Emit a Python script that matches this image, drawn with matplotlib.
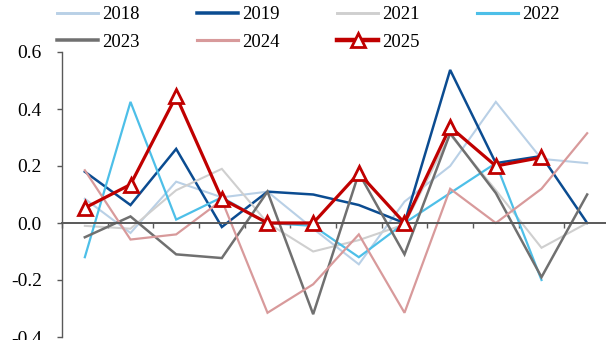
import numpy as np
import matplotlib
matplotlib.use("Agg")
import matplotlib.pyplot as plt

nan = np.nan
months = ["1", "2", "3", "4", "5", "6", "7", "8", "9", "10", "11", "12"]
s2018 = [0.085, -0.035, 0.145, 0.09, 0.11, -0.02, -0.145, 0.075, 0.20, 0.425, 0.225, 0.21]
s2019 = [0.18, 0.063, 0.26, -0.014, 0.11, 0.10, 0.063, 0.0, 0.537, 0.21, 0.235, 0.0]
s2021 = [-0.01, -0.02, 0.115, 0.19, 0.0, -0.10, -0.06, -0.005, 0.31, 0.115, -0.087, 0.0]
s2022 = [-0.12, 0.425, 0.012, 0.09, 0.0, -0.01, -0.12, 0.0, 0.105, 0.21, -0.20, nan]
s2023 = [-0.05, 0.023, -0.11, -0.123, 0.11, -0.32, 0.175, -0.11, 0.315, 0.105, -0.19, 0.10]
s2024 = [0.185, -0.058, -0.04, 0.08, -0.315, -0.215, -0.04, -0.315, 0.12, 0.0, 0.12, 0.315]
s2025 = [0.053, 0.135, 0.445, 0.085, 0.0, 0.0, 0.175, 0.0, 0.337, 0.20, 0.23, nan]
yticks = [-0.4, -0.2, 0.0, 0.2, 0.4, 0.6]
ytick_labels = ["-0.4", "-0.2", "0.0", "0.2", "0.4", "0.6"]

plt.rcParams['font.family'] = ['Liberation Serif', 'DejaVu Serif']

W, H = 606, 340
fig = plt.figure(figsize=(W / 100, H / 100), dpi=100)
ax = fig.add_axes([62 / W, 3 / H, 548 / W, 285 / H])

x = np.arange(len(months))
series = [
    ("2018", s2018, "#B9D0E6", 1.5),
    ("2019", s2019, "#0B4C91", 1.8),
    ("2021", s2021, "#CFCFCF", 1.5),
    ("2022", s2022, "#4DBFE8", 1.6),
    ("2023", s2023, "#707070", 1.8),
    ("2024", s2024, "#D89A9B", 1.6),
]
handles = {}
for name, vals, col, lw in series:
    handles[name], = ax.plot(x, vals, color=col, lw=lw, label=name, solid_joinstyle='miter')
handles["2025"], = ax.plot(x, s2025, color="#C00000", lw=2.3, marker='^', markersize=10,
                           markerfacecolor='white', markeredgecolor="#C00000",
                           markeredgewidth=2.0, label="2025", zorder=5)

ax.set_xlim(-0.5, len(months) - 0.5)
ax.set_ylim(-0.4, 0.6)
ax.set_yticks(yticks)
ax.set_yticklabels(ytick_labels)
ax.set_xticks(np.arange(-0.5, len(months), 1.0))
ax.set_xticklabels([])
for s in ['top', 'right']:
    ax.spines[s].set_visible(False)
ax.spines['bottom'].set_position(('data', 0))
ax.spines['bottom'].set_color('#595959')
ax.spines['bottom'].set_linewidth(1.4)
ax.spines['left'].set_color('#595959')
ax.spines['left'].set_linewidth(1.0)
ax.tick_params(axis='y', direction='out', length=3.5, width=1.0, color='#595959',
               labelsize=14, pad=11)
ax.tick_params(axis='x', direction='out', length=3.5, width=1.0, color='#595959')

order = ["2018", "2023", "2019", "2024", "2021", "2025", "2022"]
leg = fig.legend([handles[k] for k in order], order,
                 loc='upper left', bbox_to_anchor=(57 / W, 1 - 6 / H), ncol=4,
                 frameon=False, fontsize=13.5, handlelength=2.2, handletextpad=0.22,
                 columnspacing=3.05, labelspacing=0.55, borderpad=0, borderaxespad=0,
                 numpoints=1)
for lh in leg.get_lines():
    lh.set_linewidth(lh.get_linewidth() * 1.4)

fig.savefig("out.png", dpi=100)
